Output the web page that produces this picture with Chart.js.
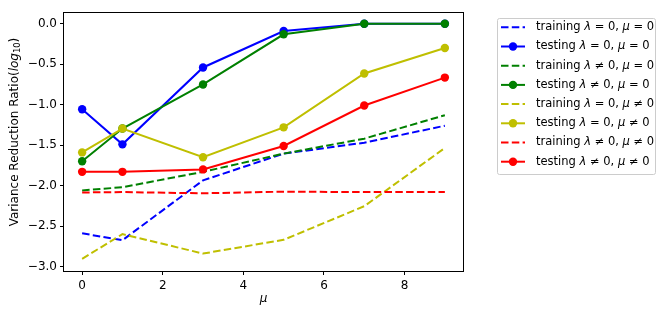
<!DOCTYPE html>
<html><head><meta charset="utf-8">
<script src="https://cdn.jsdelivr.net/npm/chart.js@4/dist/chart.umd.min.js"></script>
<style>html,body{margin:0;padding:0;background:#fff}#wrap{width:664px;height:316px}</style>
</head><body><div id="wrap"><canvas id="c" width="664" height="316"></canvas></div>
<script>
const muValues = [0, 1, 3, 5, 7, 9];
const trainL0M0 = [-2.59, -2.675, -1.935, -1.605, -1.47, -1.26];
const testL0M0 = [-1.057, -1.49, -0.54, -0.09, 0.0, 0.0];
const trainLnM0 = [-2.06, -2.02, -1.83, -1.605, -1.42, -1.13];
const testLnM0 = [-1.70, -1.295, -0.75, -0.13, 0.0, 0.0];
const trainL0Mn = [-2.905, -2.60, -2.84, -2.67, -2.255, -1.535];
const testL0Mn = [-1.59, -1.295, -1.65, -1.28, -0.615, -0.30];
const trainLnMn = [-2.085, -2.08, -2.095, -2.075, -2.08, -2.08];
const testLnMn = [-1.83, -1.83, -1.80, -1.51, -1.01, -0.665];
const seriesLabels = [
  'training λ = 0, μ = 0', 'testing λ = 0, μ = 0',
  'training λ ≠ 0, μ = 0', 'testing λ ≠ 0, μ = 0',
  'training λ = 0, μ ≠ 0', 'testing λ = 0, μ ≠ 0',
  'training λ ≠ 0, μ ≠ 0', 'testing λ ≠ 0, μ ≠ 0'
];
const yTickValues = [0.0, -0.5, -1.0, -1.5, -2.0, -2.5, -3.0];
const xTickValues = [0, 2, 4, 6, 8];
const yAxisTitle = 'Variance Reduction Ratio(log10)';
const xAxisTitle = 'μ';

const seriesValues = [trainL0M0, testL0M0, trainLnM0, testLnM0, trainL0Mn, testL0Mn, trainLnMn, testLnMn];
const colors = ['#0000ff', '#0000ff', '#008000', '#008000', '#bfbf00', '#bfbf00', '#ff0000', '#ff0000'];
const FONT = '"DejaVu Sans", sans-serif';
const DASH = [7.5, 3.3];

const datasets = seriesValues.map((vals, i) => {
  const testing = i % 2 === 1;
  return {
    label: seriesLabels[i],
    data: muValues.map((x, j) => ({x: x, y: vals[j]})),
    borderColor: colors[i],
    backgroundColor: colors[i],
    borderWidth: 2,
    borderDash: testing ? [] : DASH,
    pointRadius: testing ? 4.2 : 0,
    pointHoverRadius: testing ? 4.2 : 0,
    pointBorderWidth: 0,
    tension: 0,
    fill: false,
    order: 8 - i
  };
});

function drawRich(ctx, text, x, y, size) {
  let cx = x;
  for (const ch of text) {
    const italic = (ch === 'λ' || ch === 'μ');
    ctx.font = (italic ? 'italic ' : '') + size + 'px ' + FONT;
    ctx.fillText(ch, cx, y);
    cx += ctx.measureText(ch).width;
  }
  return cx;
}

const decorPlugin = {
  id: 'decor',
  afterDraw(chart) {
    const ctx = chart.ctx;
    const a = chart.chartArea;
    ctx.save();
    ctx.strokeStyle = '#000';
    ctx.lineWidth = 1;
    ctx.setLineDash([]);
    ctx.strokeRect(Math.round(a.left) - 0.5, Math.round(a.top) + 0.5, Math.round(a.right - a.left) + 1, Math.round(a.bottom - a.top));
    ctx.fillStyle = '#000';
    ctx.textBaseline = 'middle';
    ctx.translate(15, 132);
    ctx.rotate(-Math.PI / 2);
    const fs = 12;
    const p1 = 'Variance Reduction Ratio(';
    ctx.font = fs + 'px ' + FONT;
    const w1 = ctx.measureText(p1).width;
    ctx.font = 'italic ' + fs + 'px ' + FONT;
    const w2 = ctx.measureText('log').width;
    ctx.font = (fs * 0.7) + 'px ' + FONT;
    const w3 = ctx.measureText('10').width;
    ctx.font = fs + 'px ' + FONT;
    const w4 = ctx.measureText(')').width;
    let sx = -(w1 + w2 + w3 + w4) / 2;
    ctx.textAlign = 'left';
    ctx.font = fs + 'px ' + FONT;
    ctx.fillText(p1, sx, 0); sx += w1;
    ctx.font = 'italic ' + fs + 'px ' + FONT;
    ctx.fillText('log', sx, 0); sx += w2;
    ctx.font = (fs * 0.7) + 'px ' + FONT;
    ctx.fillText('10', sx, 3); sx += w3;
    ctx.font = fs + 'px ' + FONT;
    ctx.fillText(')', sx, 0);
    ctx.restore();

    ctx.save();
    const lx = 497, ly = 18, lw = 158, lh = 156;
    ctx.fillStyle = 'rgba(255,255,255,0.8)';
    ctx.strokeStyle = '#cccccc';
    ctx.lineWidth = 1;
    ctx.beginPath();
    if (ctx.roundRect) ctx.roundRect(lx + 0.5, ly + 0.5, lw, lh, 2); else ctx.rect(lx + 0.5, ly + 0.5, lw, lh);
    ctx.fill();
    ctx.stroke();
    const rowH = 19.2;
    chart.data.datasets.forEach((ds, i) => {
      const cy = 27.3 + i * rowH;
      ctx.strokeStyle = ds.borderColor;
      ctx.lineWidth = 2;
      ctx.setLineDash(ds.borderDash);
      ctx.beginPath();
      ctx.moveTo(501, cy);
      ctx.lineTo(525, cy);
      ctx.stroke();
      ctx.setLineDash([]);
      if (ds.pointRadius > 0) {
        ctx.fillStyle = ds.backgroundColor;
        ctx.beginPath();
        ctx.arc(513, cy, ds.pointRadius, 0, Math.PI * 2);
        ctx.fill();
      }
      ctx.fillStyle = '#000';
      ctx.textAlign = 'left';
      ctx.textBaseline = 'middle';
      drawRich(ctx, ds.label, 536, cy, 11.5);
    });
    ctx.restore();
  }
};

const fmtY = v => (v < 0 ? '\u2212' : '') + Math.abs(v).toFixed(1);

new Chart(document.getElementById('c'), {
  type: 'line',
  data: { datasets: datasets },
  options: {
    responsive: false,
    devicePixelRatio: 1,
    animation: false,
    layout: { padding: { top: 12, right: 201, left: 0, bottom: 0 } },
    plugins: { legend: { display: false }, tooltip: { enabled: false } },
    scales: {
      x: {
        type: 'linear',
        min: -0.45, max: 9.45,
        afterBuildTicks: s => { s.ticks = xTickValues.map(v => ({value: v})); },
        afterFit: s => { s.height = 45; },
        grid: { display: true, drawOnChartArea: false, drawTicks: true, tickLength: 4, color: '#000', lineWidth: 1 },
        border: { display: false },
        ticks: { color: '#000', font: { family: FONT, size: 12 }, padding: 4, maxRotation: 0, callback: v => String(v) },
        title: { display: true, text: xAxisTitle, color: '#000', font: { family: FONT, size: 12, style: 'italic' }, padding: { top: 0, bottom: 10 } }
      },
      y: {
        type: 'linear',
        min: -3.0555, max: 0.1455,
        afterBuildTicks: s => { s.ticks = yTickValues.map(v => ({value: v})); },
        afterFit: s => { s.width = 64; },
        grid: { display: true, drawOnChartArea: false, drawTicks: true, tickLength: 4, color: '#000', lineWidth: 1 },
        border: { display: false },
        ticks: { color: '#000', font: { family: FONT, size: 12 }, padding: 3, callback: v => fmtY(v) }
      }
    }
  },
  plugins: [decorPlugin]
});
</script>
</body></html>
